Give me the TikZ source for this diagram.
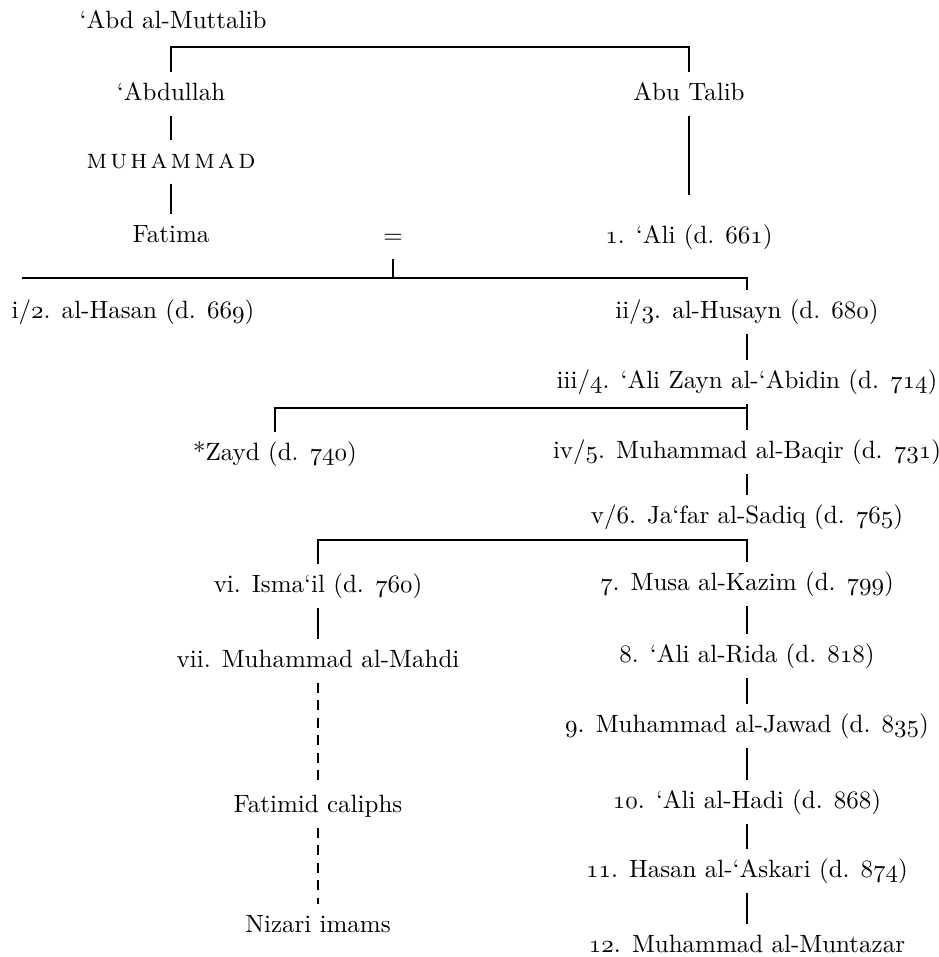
\documentclass[tikz,border=0pt]{standalone}
\usepackage{fontspec}
\usepackage{tikz}
\def\os#1{{\usefont{OML}{cmm}{m}{it}#1}}
\def\sp{\kern1.3pt}

\begin{document}
\begin{tikzpicture}[x=0.4pt,y=-0.4pt,
        every node/.style={inner sep=4pt,text height=7pt,text depth=2pt},
        line/.style={line width=1.1pt},
        dashline/.style={line width=1.1pt,dash pattern=on 4pt off 3pt}]
        \useasboundingbox (0,0) rectangle (938,957);
        % forebears
        \node (muttalib) at (173,22) {`Abd al-Muttalib};
        \node (abdullah) at (171,94) {`Abdullah};
        \node (abutalib) at (689,94) {Abu Talib};
        \node (muhammad) at (171,162) {\fontsize{11}{13}\selectfont\scshape m\sp u\sp h\sp a\sp m\sp m\sp a\sp d};
        \node (fatima) at (171,236) {Fatima};
        \node (eq) at (393,237) {$=$};
        \node (ali) at (689,237) {\os{1}. `Ali (d. \os{661})};
        % imams
        \node (hasan) at (133,312) {i/\os{2}. al-Hasan (d. \os{669})};
        \node (husayn) at (747,312) {ii/\os{3}. al-Husayn (d. \os{680})};
        \node (zayn) at (747,382) {iii/\os{4}. `Ali Zayn al-`Abidin (d. \os{714})};
        \node (zayd) at (275,454) {*Zayd (d. \os{740})};
        \node (baqir) at (747,452) {iv/\os{5}. Muhammad al-Baqir (d. \os{731})};
        \node (jafar) at (747,517) {v/\os{6}. Ja`far al-Sadiq (d. \os{765})};
        \node (ismail) at (318,586) {vi. Isma`il (d. \os{760})};
        \node (musa) at (747,584) {\os{7}. Musa al-Kazim (d. \os{799})};
        \node (mahdi) at (318,661) {vii. Muhammad al-Mahdi};
        \node (rida) at (747,656) {\os{8}. `Ali al-Rida (d. \os{818})};
        \node (jawad) at (747,726) {\os{9}. Muhammad al-Jawad (d. \os{835})};
        \node (fatimid) at (318,806) {Fatimid caliphs};
        \node (hadi) at (747,802) {\os{10}. `Ali al-Hadi (d. \os{868})};
        \node (askari) at (747,871) {\os{11}. Hasan al-`Askari (d. \os{874})};
        \node (nizari) at (318,926) {Nizari imams};
        \node (muntazar) at (747,946) {\os{12}. Muhammad al-Muntazar};
        \coordinate (top) at (430,47);
        \coordinate (kids) at (393,278);
        \coordinate (kidsl) at (22,278);
        \coordinate (b1) at (747,408);
        \coordinate (b2) at (747,540);
        % lines
        \draw[line] (abdullah.north) |- (top) -| (abutalib.north);
        \draw[line] (abdullah.south) -- (muhammad.north);
        \draw[line] (muhammad.south) -- (fatima.north);
        \draw[line,shorten >=8pt] (abutalib.south) -- (ali.north);
        \draw[line] (eq.south) -- (kids);
        \draw[line] (kidsl) -- (kids -| husayn.north) -- (husayn.north);
        \draw[line] (zayd.north) |- (b1);
        \draw[line] (ismail.north) |- (b2);
        \foreach \a/\b in {husayn/zayn,zayn/baqir,baqir/jafar,jafar/musa,musa/rida,
          rida/jawad,jawad/hadi,hadi/askari,askari/muntazar} {
        \draw[line] (\a.south) -- (\b.north); }
        \draw[line] (ismail.south) -- (mahdi.north);
        \draw[dashline] (mahdi.south) -- (fatimid.north);
        \draw[dashline] (fatimid.south) -- (nizari.north);
      \end{tikzpicture}
\end{document}
